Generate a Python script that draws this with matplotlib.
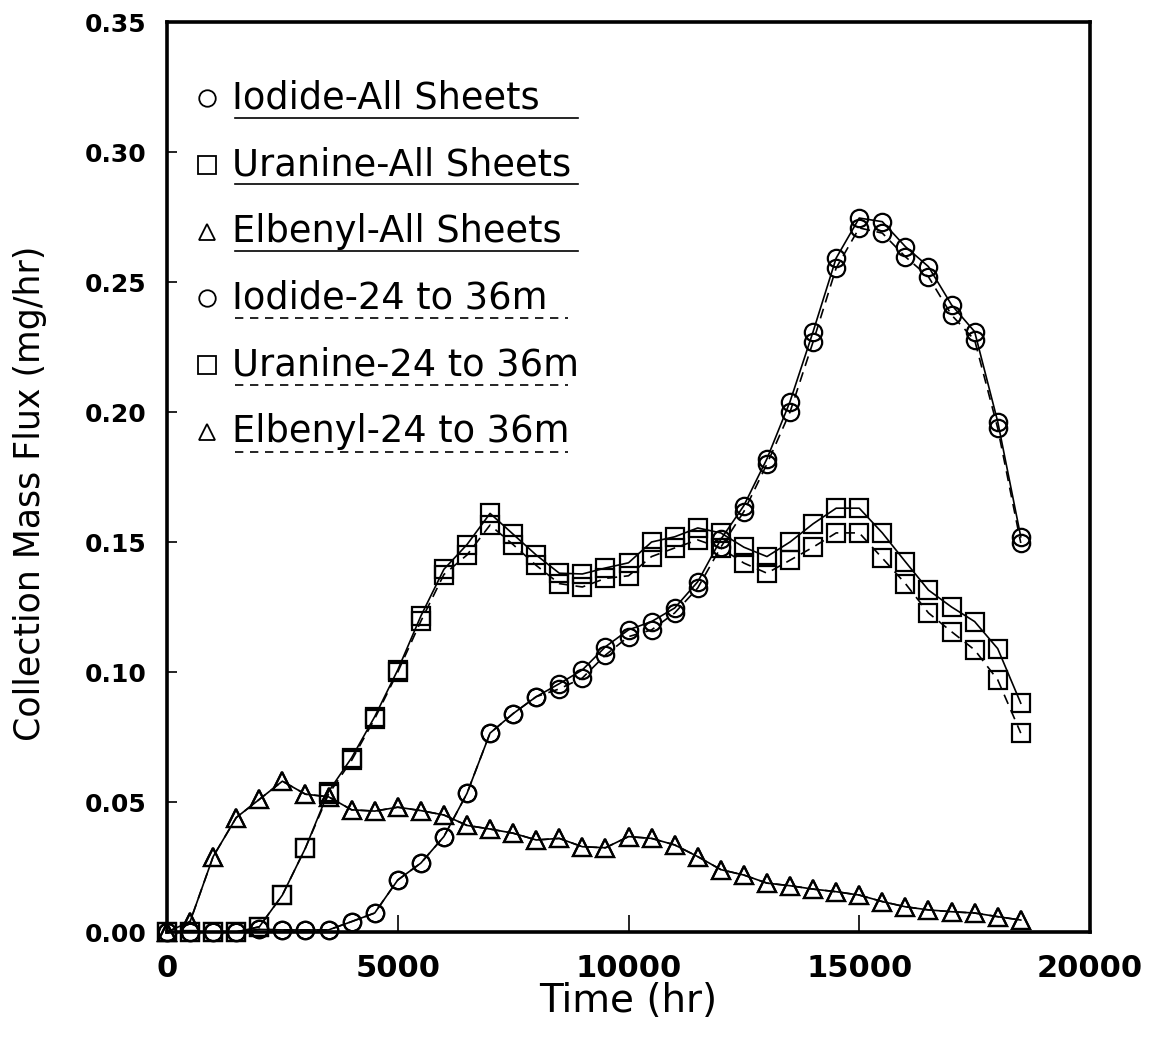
"""Collection mass flux vs time for iodide, uranine and elbenyl tracers."""
import matplotlib
matplotlib.use("Agg")
import matplotlib.pyplot as plt  # noqa: E402

# sample times (hr)
TIME = [0, 500, 1000, 1500, 2000, 2500, 3000, 3500, 4000, 4500,
        5000, 5500, 6000, 6500, 7000, 7500, 8000, 8500, 9000, 9500,
        10000, 10500, 11000, 11500, 12000, 12500, 13000, 13500, 14000, 14500,
        15000, 15500, 16000, 16500, 17000, 17500, 18000, 18500]

# collection mass flux (mg/hr)
IODIDE_ALL = [0.0, 0.0, 0.0, 0.0, 0.001, 0.0008, 0.0008, 0.0008, 0.004, 0.0073,
              0.020, 0.0265, 0.0367, 0.0533, 0.0765, 0.084, 0.0905, 0.0955, 0.1008, 0.1097,
              0.1162, 0.1194, 0.1246, 0.1347, 0.151, 0.164, 0.182, 0.204, 0.2309, 0.2592,
              0.2746, 0.2732, 0.2636, 0.2559, 0.2412, 0.2309, 0.1963, 0.152]
URANINE_ALL = [0.0, 0.0, 0.0, 0.0, 0.002, 0.0142, 0.0323, 0.054, 0.067, 0.0828,
               0.1008, 0.1215, 0.1395, 0.149, 0.161, 0.153, 0.145, 0.138, 0.1377, 0.140,
               0.142, 0.150, 0.152, 0.1554, 0.1535, 0.148, 0.1444, 0.150, 0.157, 0.163,
               0.163, 0.1535, 0.1424, 0.1315, 0.125, 0.1194, 0.109, 0.088]
ELBENYL_ALL = [0.0, 0.004, 0.029, 0.044, 0.051, 0.058, 0.053, 0.052, 0.047, 0.0465,
               0.048, 0.0467, 0.045, 0.041, 0.0396, 0.038, 0.0354, 0.036, 0.0328, 0.0324,
               0.0367, 0.036, 0.0335, 0.029, 0.024, 0.0219, 0.0188, 0.0178, 0.0165, 0.0155,
               0.0142, 0.0117, 0.0097, 0.0085, 0.0078, 0.0073, 0.0059, 0.0046]
IODIDE_24_36 = [0.0, 0.0, 0.0, 0.0, 0.001, 0.0008, 0.0008, 0.0008, 0.004, 0.0073,
                0.020, 0.0265, 0.0367, 0.0533, 0.0765, 0.084, 0.0905, 0.0935, 0.0977, 0.1065,
                0.1136, 0.1162, 0.1227, 0.1323, 0.148, 0.1617, 0.180, 0.200, 0.227, 0.2554,
                0.2708, 0.2688, 0.2597, 0.252, 0.2373, 0.2277, 0.1938, 0.1496]
URANINE_24_36 = [0.0, 0.0, 0.0, 0.0, 0.002, 0.0142, 0.0323, 0.053, 0.066, 0.082,
                 0.100, 0.1195, 0.1375, 0.145, 0.1565, 0.149, 0.141, 0.134, 0.1327, 0.136,
                 0.137, 0.1444, 0.1477, 0.1508, 0.1477, 0.1419, 0.138, 0.143, 0.148, 0.1535,
                 0.1535, 0.1438, 0.134, 0.1227, 0.1155, 0.1085, 0.097, 0.0765]
ELBENYL_24_36 = [0.0, 0.004, 0.029, 0.044, 0.051, 0.058, 0.053, 0.052, 0.047, 0.0465,
                 0.048, 0.0467, 0.045, 0.041, 0.0396, 0.038, 0.0354, 0.036, 0.0328, 0.0324,
                 0.0367, 0.036, 0.0335, 0.029, 0.024, 0.0219, 0.0188, 0.0178, 0.0165, 0.0155,
                 0.0142, 0.0117, 0.0097, 0.0085, 0.0078, 0.0073, 0.0059, 0.0046]

LABELS = ["Iodide-All Sheets", "Uranine-All Sheets", "Elbenyl-All Sheets",
          "Iodide-24 to 36m", "Uranine-24 to 36m", "Elbenyl-24 to 36m"]
X_TICKS = [0, 5000, 10000, 15000, 20000]
Y_TICKS = [0.00, 0.05, 0.10, 0.15, 0.20, 0.25, 0.30, 0.35]

DASHED = (0, (6, 4))
SERIES = [
    (IODIDE_ALL, "o", "-"), (URANINE_ALL, "s", "-"), (ELBENYL_ALL, "^", "-"),
    (IODIDE_24_36, "o", DASHED), (URANINE_24_36, "s", DASHED),
    (ELBENYL_24_36, "^", DASHED),
]
MSIZE = {"o": 12.5, "s": 13, "^": 12.5}

plt.rcParams["font.family"] = ["DejaVu Sans"]

fig = plt.figure(figsize=(11.55, 10.45), dpi=100)
ax = fig.add_axes([167 / 1155, 113 / 1045, 923 / 1155, 910 / 1045])

for vals, mk, ls in SERIES:
    ax.plot(TIME, vals, color="black", lw=1.2, ls=ls, marker=mk,
            ms=MSIZE[mk], mfc="none", mec="black", mew=1.6, clip_on=False)

ax.set_xlim(0, 20000)
ax.set_ylim(0, 0.35)
ax.set_xticks(X_TICKS)
ax.set_xticklabels([str(v) for v in X_TICKS], fontsize=22, fontweight="bold")
ax.set_yticks(Y_TICKS)
ax.set_yticklabels([f"{v:.2f}" for v in Y_TICKS], fontsize=18, fontweight="bold")
ax.tick_params(axis="x", direction="in", length=12, width=1.2, top=False, pad=16)
ax.tick_params(axis="y", direction="in", length=7, width=1.2, right=False, pad=15)
for sp in ax.spines.values():
    sp.set_linewidth(2.6)

ax.set_xlabel("Time (hr)", fontsize=28)
ax.xaxis.set_label_coords(0.5, -0.055)
ax.set_ylabel("Collection Mass Flux (mg/hr)", fontsize=25)
ax.yaxis.set_label_coords(-0.13, 0.482)

# hand-made legend: marker, label, and the line style underlined beneath
row0, step = 0.9165, 0.0734
for i, (lab, (_, mk, ls)) in enumerate(zip(LABELS, SERIES)):
    y = row0 - i * step
    ax.plot([0.0433], [y], transform=ax.transAxes, marker=mk, ms=MSIZE[mk] * 0.95,
            mfc="none", mec="black", mew=1.3, ls="none")
    ax.text(0.0704, y, lab, transform=ax.transAxes, fontsize=26.5,
            ha="left", va="center")
    x_end = 0.4453 if ls == "-" else 0.434
    ax.plot([0.0737, x_end], [y - 0.0215, y - 0.0215], transform=ax.transAxes,
            color="black", lw=1.2, ls=ls if ls == "-" else (0, (5, 4)))

fig.savefig("out.png", dpi=100)
